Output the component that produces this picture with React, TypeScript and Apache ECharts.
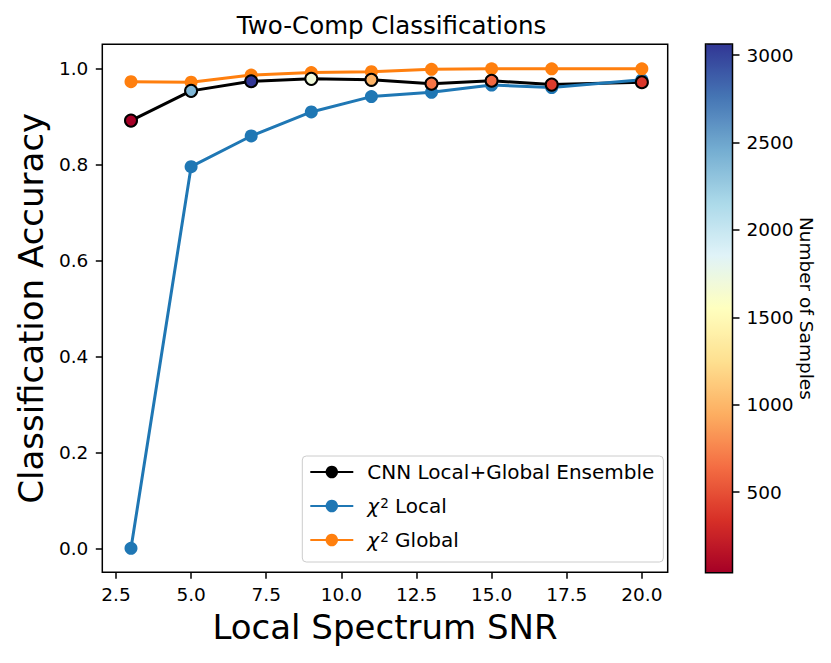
import React, { useEffect, useRef } from "react";
import * as echarts from "echarts";

const snr = [3, 5, 7, 9, 11, 13, 15, 17, 20];
const cnnAcc = [0.891, 0.953, 0.973, 0.978, 0.976, 0.968, 0.974, 0.966, 0.971];
const chiLocal = [0.0, 0.795, 0.859, 0.909, 0.941, 0.95, 0.965, 0.96, 0.976];
const chiGlobal = [0.972, 0.971, 0.986, 0.991, 0.993, 0.998, 0.999, 0.999, 0.999];
const nSamples = [40, 2400, 3063, 1700, 980, 675, 615, 400, 370];

const xTicks = [2.5, 5, 7.5, 10, 12.5, 15, 17.5, 20];
const yTicks = [0, 0.2, 0.4, 0.6, 0.8, 1.0];
const cbTicks = [500, 1000, 1500, 2000, 2500, 3000];

const rdYlBu = [
  "#a50026", "#d73027", "#f46d43", "#fdae61", "#fee090", "#ffffbf",
  "#e0f3f8", "#abd9e9", "#74add1", "#4575b4", "#313695",
];

const FONT = "DejaVu Sans";

export default function App() {
  const ref = useRef<HTMLDivElement>(null);
  useEffect(() => {
    const chart = echarts.init(ref.current!, null, { renderer: "svg" });
    const pts = (ys: number[]) => snr.map((x, i) => [x, ys[i]]);
    const fmt1 = (v: number) => v.toFixed(1);
    const legendNames = ["CNN Local+Global Ensemble", "χ² Local", "χ² Global"];
    chart.setOption({
      animation: false,
      backgroundColor: "#ffffff",
      textStyle: { fontFamily: FONT },
      title: {
        text: "Two-Comp Classifications",
        left: 386.5,
        top: 8,
        textAlign: "center",
        textStyle: { fontFamily: FONT, fontSize: 24.5, fontWeight: "normal", color: "#000" },
      },
      grid: [
        { left: 102.3, top: 44.3, width: 565.4, height: 528, show: true, borderColor: "#000", borderWidth: 1.5, backgroundColor: "transparent" },
        { left: 705.5, top: 44, width: 27, height: 528.7, show: true, borderColor: "#000", borderWidth: 1.5, backgroundColor: "transparent", z: 10 },
      ],
      xAxis: [
        {
          type: "value",
          gridIndex: 0,
          min: 2.045,
          max: 20.86,
          name: "Local Spectrum SNR",
          nameLocation: "middle",
          nameGap: 38,
          nameTextStyle: { fontFamily: FONT, fontSize: 34, color: "#000" },
          axisLine: { show: false, onZero: false },
          splitLine: { show: false },
          axisTick: { show: true, inside: false, length: 6.5, customValues: xTicks, lineStyle: { color: "#000", width: 1.5 } },
          axisLabel: { customValues: xTicks, formatter: fmt1, margin: 13, fontSize: 18.5, color: "#000", fontFamily: FONT },
        },
        { type: "value", gridIndex: 1, min: 0, max: 1, show: false },
      ],
      yAxis: [
        {
          type: "value",
          gridIndex: 0,
          min: -0.05,
          max: 1.05,
          name: "Classification Accuracy",
          nameLocation: "middle",
          nameGap: 49,
          nameTextStyle: { fontFamily: FONT, fontSize: 34, color: "#000" },
          axisLine: { show: false, onZero: false },
          splitLine: { show: false },
          axisTick: { show: true, inside: false, length: 6.5, customValues: yTicks, lineStyle: { color: "#000", width: 1.5 } },
          axisLabel: { customValues: yTicks, formatter: fmt1, margin: 14, fontSize: 18.5, color: "#000", fontFamily: FONT },
        },
        {
          type: "value",
          gridIndex: 1,
          position: "right",
          min: 40,
          max: 3063,
          name: "Number of Samples",
          nameLocation: "middle",
          nameRotate: -90,
          nameGap: 63,
          nameTextStyle: { fontFamily: FONT, fontSize: 18.5, color: "#000" },
          axisLine: { show: false, onZero: false },
          splitLine: { show: false },
          axisTick: { show: true, inside: false, length: 7, customValues: cbTicks, lineStyle: { color: "#000", width: 1.5 } },
          axisLabel: { customValues: cbTicks, formatter: (v: number) => String(Math.round(v)), margin: 14, fontSize: 18.5, color: "#000", fontFamily: FONT },
        },
      ],
      visualMap: {
        type: "continuous",
        min: 40,
        max: 3063,
        dimension: 2,
        seriesIndex: 3,
        calculable: false,
        orient: "vertical",
        left: 705.5,
        top: 44,
        itemWidth: 27,
        itemHeight: 528.7,
        padding: 0,
        inRange: { color: rdYlBu },
      },
      legend: {
        data: legendNames,
        orient: "vertical",
        left: 302.3,
        top: 456,
        padding: [6, 9, 12, 7],
        itemGap: 13.5,
        itemWidth: 43,
        itemHeight: 15.6,
        backgroundColor: "rgba(255,255,255,0.8)",
        borderColor: "#cccccc",
        borderWidth: 1,
        borderRadius: 4,
        formatter: (name: string) =>
          name.startsWith("χ")
            ? `{gap|}{chi|χ}{sup|2}{base|${name.slice(2)}}`
            : `{gap|}{base|${name}}`,
        textStyle: {
          fontFamily: FONT,
          fontSize: 20,
          color: "#000",
          width: 294,
          overflow: "none",
          rich: {
            gap: { width: 9, fontSize: 20 },
            chi: { fontFamily: FONT, fontSize: 20, fontStyle: "italic", color: "#000" },
            sup: { fontFamily: FONT, fontSize: 13.5, color: "#000", verticalAlign: "top", padding: [0, 0, 7, 1] },
            base: { fontFamily: FONT, fontSize: 20, color: "#000" },
          },
        },
      },
      series: [
        {
          name: legendNames[0],
          type: "line",
          xAxisIndex: 0,
          yAxisIndex: 0,
          data: pts(cnnAcc),
          symbol: "circle",
          symbolSize: 13,
          color: "#000",
          itemStyle: { color: "#000" },
          lineStyle: { color: "#000", width: 3 },
          z: 2,
        },
        {
          name: legendNames[1],
          type: "line",
          xAxisIndex: 0,
          yAxisIndex: 0,
          data: pts(chiLocal),
          symbol: "circle",
          symbolSize: 13,
          color: "#1f77b4",
          itemStyle: { color: "#1f77b4" },
          lineStyle: { color: "#1f77b4", width: 3 },
          z: 3,
        },
        {
          name: legendNames[2],
          type: "line",
          xAxisIndex: 0,
          yAxisIndex: 0,
          data: pts(chiGlobal),
          symbol: "circle",
          symbolSize: 13,
          color: "#ff7f0e",
          itemStyle: { color: "#ff7f0e" },
          lineStyle: { color: "#ff7f0e", width: 3 },
          z: 4,
        },
        {
          name: "samples",
          type: "scatter",
          xAxisIndex: 0,
          yAxisIndex: 0,
          data: snr.map((x, i) => [x, cnnAcc[i], nSamples[i]]),
          symbol: "circle",
          symbolSize: 12,
          itemStyle: { borderColor: "#000", borderWidth: 2, opacity: 1 },
          z: 5,
        },
      ],
    });
    return () => chart.dispose();
  }, []);
  return (
    <div
      ref={ref}
      style={{ position: "fixed", left: 0, top: 0, width: 831, height: 663, background: "#fff" }}
    />
  );
}
